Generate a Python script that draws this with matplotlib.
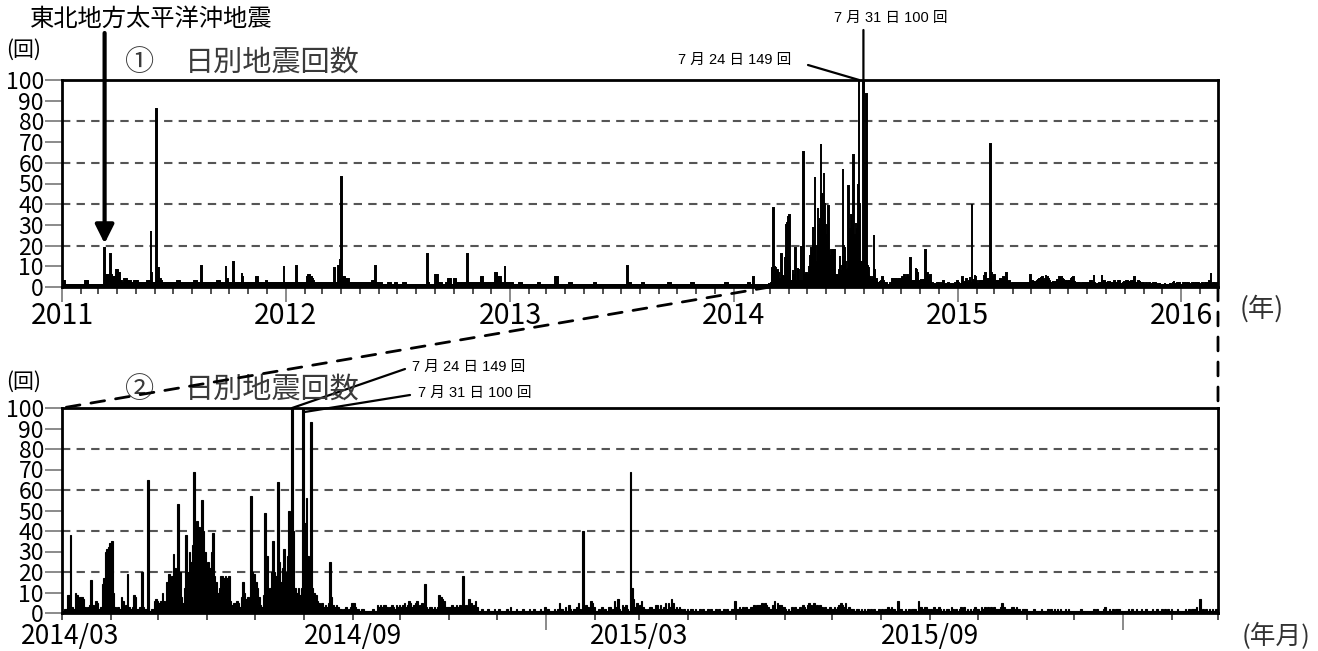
import calendar
import datetime as dt

import matplotlib
matplotlib.use('Agg')
import matplotlib.pyplot as plt
import matplotlib.dates as mdates
from matplotlib.ticker import FuncFormatter, NullFormatter, MultipleLocator
from matplotlib.patches import ConnectionPatch

plt.rcParams['font.family'] = ['Noto Sans CJK JP', 'DejaVu Sans']

# daily earthquake counts, one string per month, one digit per day
# (days with 10 or more are listed in the spike lists below)
counts_2011 = [
    "1333311111 1111111111 1111111111 1",
    "1111111333 3311111111 11111111",
    "1111111111 1665566655 1665555558 8",
    "8877333322 2444443333 3322222333",
    "3333222222 2222222223 3333327222 2",
    "2221999544 3322222222 2222222222",
    "2222222333 3222222222 2222222222 2",
    "2222333322 2222322222 2222222222 2",
    "2222222222 3333322222 2222222421",
    "2222221222 2222222222 7522222222 2",
    "2222222222 2255522222 2222222223",
    "3222222222 2222222222 2222222212 2",
]
counts_2012 = [
    "2222222222 2222222122 2222222222 2",
    "2222566655 5543322222 222222222",
    "2222222222 2222222229 2222221229 9",
    "1555554444 4422222222 2222222222",
    "2222222222 2222222222 3333321222 2",
    "2222211111 1111122222 1111112222",
    "1111111111 2222211111 1111111111 1",
    "1111111111 1111111112 2111111111 1",
    "6666222222 2111111122 4444411111",
    "4444222222 2222222222 2222222222 2",
    "2222222222 2225555222 2222222222",
    "2222222777 5555552222 2222222222 2",
]
counts_2013 = [
    "2222211111 1111122222 1111111111 1",
    "1111111111 1111222211 11111111",
    "1111111111 1111155551 1111111111 1",
    "1111112222 2111111111 1111111111",
    "1111111111 1111111222 2111111111 1",
    "1111111111 1111111111 1111111111",
    "1111111111 1222221111 1111111111 1",
    "1111222111 1111111111 1111111111 1",
    "1111111111 1111122221 1111111111",
    "1111111111 1111111111 1112222111 1",
    "1111111111 1111111111 1111111111",
    "1111111111 1111112222 2211111111 1",
]
counts_2014 = [
    "1111111111 1111111111 1112222111 1",
    "5511111111 1111111111 11111121",
    "1229933219 7887323414 3652311111 1",
    "1132328634 1323982231 3221122676",
    "5616411111 1111851111 1111111111 1",
    "1111111111 1111645565 3811785111",
    "1184391111 1111111111 1111111191 1",
    "1111111965 4534351843 4322123123 5",
    "5322122111 1121143434 4323432434",
    "3453465345 6345313233 2323987633 3",
    "3433434313 4375346311 2111211121",
    "1211112131 1121112111 2112111211 3",
]
counts_2015 = [
    "1211121252 2131421223 5213243265 3",
    "1121312133 1263721434 21117352",
    "4632123322 4424235253 7523232121 2",
    "1221211212 1121211212 1121211226",
    "2232323223 3434445454 3224625443 3",
    "2121323223 2432454252 4343232232",
    "2323454352 3222122121 2121212112 1",
    "2122323221 6221121212 2216332332 2",
    "2132232121 2213212123 2312121232",
    "2132323232 3222353222 2332322122 2",
    "1111211112 1112121212 1211212111",
    "1111211111 1121211123 1121212221 1",
]
counts_2016 = [
    "1112121121 1211211121 1211212121 2",
    "1112111121 2122231712 121212122",
]

spike_dates = [
    "2011-03-11", "2011-03-21", "2011-05-26", "2011-06-04", "2011-08-16",
    "2011-09-25", "2011-10-07", "2011-12-29", "2012-01-18", "2012-03-27",
    "2012-03-30", "2012-04-01", "2012-05-26", "2012-08-19", "2012-10-23",
    "2012-12-23", "2013-07-11",
    "2014-03-06", "2014-03-09", "2014-03-19", "2014-03-26", "2014-03-27",
    "2014-03-28", "2014-03-29", "2014-03-30", "2014-03-31",
    "2014-04-01", "2014-04-02", "2014-04-11", "2014-04-20", "2014-04-24",
    "2014-05-03", "2014-05-06", "2014-05-07", "2014-05-08", "2014-05-09",
    "2014-05-10", "2014-05-11", "2014-05-12", "2014-05-13", "2014-05-14",
    "2014-05-17", "2014-05-18", "2014-05-19", "2014-05-20", "2014-05-21",
    "2014-05-22", "2014-05-23", "2014-05-24", "2014-05-25", "2014-05-26",
    "2014-05-27", "2014-05-28", "2014-05-29", "2014-05-30", "2014-05-31",
    "2014-06-01", "2014-06-02", "2014-06-03", "2014-06-04", "2014-06-05",
    "2014-06-06", "2014-06-07", "2014-06-08", "2014-06-09", "2014-06-10",
    "2014-06-11", "2014-06-12", "2014-06-13", "2014-06-14", "2014-06-23",
    "2014-06-24", "2014-06-28", "2014-06-29", "2014-06-30",
    "2014-07-01", "2014-07-02", "2014-07-07", "2014-07-08", "2014-07-09",
    "2014-07-10", "2014-07-11", "2014-07-12", "2014-07-13", "2014-07-14",
    "2014-07-15", "2014-07-16", "2014-07-17", "2014-07-18", "2014-07-19",
    "2014-07-20", "2014-07-21", "2014-07-22", "2014-07-23", "2014-07-24",
    "2014-07-25", "2014-07-26", "2014-07-27", "2014-07-28", "2014-07-30",
    "2014-07-31",
    "2014-08-01", "2014-08-02", "2014-08-03", "2014-08-04", "2014-08-05",
    "2014-08-06", "2014-08-07", "2014-08-17", "2014-10-16", "2014-11-09",
    "2015-01-24", "2015-02-23", "2015-02-24",
]
spike_counts = [
    19, 16, 27, 86, 10,
    10, 12, 10, 10, 10,
    13, 53, 10, 16, 16,
    10, 10,
    38, 10, 16, 14, 17,
    30, 31, 32, 34,
    35, 10, 19, 20, 65,
    10, 15, 19, 17, 18,
    29, 22, 16, 53, 20,
    12, 38, 20, 30, 25,
    33, 69, 44, 45, 42,
    35, 55, 40, 30, 24,
    25, 22, 30, 39, 18,
    15, 10, 12, 18, 18,
    17, 18, 17, 18, 15,
    10, 57, 20, 19,
    15, 12, 49, 28, 10,
    12, 20, 35, 20, 18,
    64, 25, 15, 22, 31,
    20, 28, 50, 30, 149,
    40, 12, 10, 12, 12,
    100,
    44, 56, 28, 20, 93,
    12, 10, 25, 14, 18,
    40, 69, 12,
]

# build the daily series
daily = {}
for year, months in [(2011, counts_2011), (2012, counts_2012), (2013, counts_2013),
                     (2014, counts_2014), (2015, counts_2015), (2016, counts_2016)]:
    for m, s in enumerate(months, start=1):
        s = s.replace(" ", "")
        n = calendar.monthrange(year, m)[1]
        s = s.ljust(n, "0")[:n]
        for d in range(n):
            daily[dt.date(year, m, d + 1)] = int(s[d])
for ds, c in zip(spike_dates, spike_counts):
    daily[dt.date.fromisoformat(ds)] = c

dates = sorted(daily)
x = mdates.date2num(dates)
y = [daily[d] for d in dates]

W, H = 1318, 651
fig = plt.figure(figsize=(W / 100, H / 100), dpi=100)


def fx(px):
    return px / W


def fy(py):
    return 1 - py / H


ax1 = fig.add_axes([fx(62), fy(287), fx(1156), 207 / H])
ax2 = fig.add_axes([fx(62), fy(613), fx(1156), 205 / H])

grid_color = '#555555'
tick_color = '#777777'

for ax, lw in [(ax1, 1.4), (ax2, 0.8)]:
    ax.bar(x, y, width=1.0, align='edge', color='black', edgecolor='black',
           linewidth=lw, zorder=2)
    for g in [20, 40, 60, 80]:
        ax.axhline(g, color=grid_color, lw=1.5, dashes=(4, 3), zorder=1)
    ax.set_ylim(0, 100)
    ax.yaxis.set_major_locator(MultipleLocator(10))
    ax.tick_params(axis='y', direction='out', length=12, width=1.2,
                   color=tick_color, labelsize=16.5, pad=1)
    for sp in ax.spines.values():
        sp.set_linewidth(2)
        sp.set_zorder(3)

# top panel: whole period
x_start1 = mdates.date2num(dt.date(2011, 1, 1))
x_start2 = mdates.date2num(dt.date(2014, 3, 1))
x_end = mdates.date2num(dt.date(2016, 3, 1))
ax1.set_xlim(x_start1, x_end)
ax1.xaxis.set_major_locator(mdates.YearLocator())
ax1.xaxis.set_major_formatter(mdates.DateFormatter('%Y'))
ax1.xaxis.set_minor_locator(mdates.MonthLocator())
ax1.tick_params(axis='x', which='major', length=11, width=1.2, color=tick_color,
                labelsize=20.5, pad=-1)
ax1.tick_params(axis='x', which='minor', length=5, width=1.2, color='#333333')

# bottom panel: 2014/03 onwards
ax2.set_xlim(x_start2, x_end)
ax2.xaxis.set_major_locator(mdates.MonthLocator(bymonth=1))
ax2.xaxis.set_major_formatter(NullFormatter())
ax2.xaxis.set_minor_locator(mdates.MonthLocator())


def month_label(v, pos):
    d = mdates.num2date(v)
    # first label is placed by hand, slightly right of the axis corner
    if d.month in (3, 9) and x_start2 + 1 < v < x_end - 1:
        return d.strftime('%Y/%m')
    return ''


ax2.xaxis.set_minor_formatter(FuncFormatter(month_label))
ax2.tick_params(axis='x', which='major', length=12, width=1.2, color=tick_color)
ax2.tick_params(axis='x', which='minor', length=5, width=1.2, color='#333333',
                labelsize=19, pad=2)
fig.text(fx(70), fy(613 + 7 * 100 / 72), '2014/03', fontsize=19,
         ha='center', va='top')

# panel titles and units
title_color = '#3a3a3a'
for ax, num, ty in [(ax1, '①', 63), (ax2, '②', 390)]:
    fig.text(fx(140), fy(ty), num, fontsize=21, color=title_color, ha='center', va='center')
    fig.text(fx(185), fy(ty), '日別地震回数', fontsize=21, color=title_color,
             ha='left', va='center')
fig.text(fx(24), fy(50), '(回)', fontsize=15, ha='center', va='center')
fig.text(fx(24), fy(382), '(回)', fontsize=15, ha='center', va='center')
fig.text(fx(1262), fy(309), '(年)', fontsize=19, color='#333333', ha='center', va='center')
fig.text(fx(1276), fy(636), '(年月)', fontsize=18.5, color='#333333', ha='center', va='center')

# Tohoku earthquake arrow
fig.text(fx(30), fy(19), '東北地方太平洋沖地震', fontsize=17.5, ha='left', va='center')
quake = mdates.date2num(dt.date(2011, 3, 11)) + 0.5
ax1.annotate('', xy=(quake, 21), xycoords='data',
             xytext=(quake, fy(33)), textcoords=('data', 'figure fraction'),
             arrowprops=dict(arrowstyle='-|>', color='black', lw=3,
                             mutation_scale=28, shrinkA=0, shrinkB=0))

# peak labels
lab_font = ['Liberation Sans', 'Noto Sans CJK JP']
jul24 = mdates.date2num(dt.date(2014, 7, 24)) + 0.5
jul31 = mdates.date2num(dt.date(2014, 7, 31)) + 0.5
line_kw = dict(arrowstyle='-', color='black', lw=1.6, shrinkA=0, shrinkB=0)

fig.text(fx(735), fy(60), '7 月 24 日 149 回', fontsize=10.5, family=lab_font,
         ha='center', va='center')
fig.text(fx(891), fy(18), '7 月 31 日 100 回', fontsize=10.5, family=lab_font,
         ha='center', va='center')
ax1.annotate('', xy=(jul24, 100), xytext=(fx(808), fy(65)),
             textcoords='figure fraction', arrowprops=line_kw)
ax1.annotate('', xy=(jul31, 100), xytext=(jul31, fy(30)),
             textcoords=('data', 'figure fraction'), arrowprops=line_kw)

fig.text(fx(412), fy(367), '7 月 24 日 149 回', fontsize=10.5, family=lab_font,
         ha='left', va='center')
fig.text(fx(418), fy(393), '7 月 31 日 100 回', fontsize=10.5, family=lab_font,
         ha='left', va='center')
ax2.annotate('', xy=(jul24, 100), xytext=(fx(405), fy(369)),
             textcoords='figure fraction', arrowprops=line_kw)
ax2.annotate('', xy=(jul31 + 0.5, 98), xytext=(fx(410), fy(395)),
             textcoords='figure fraction', arrowprops=line_kw)

# dashed zoom lines between the panels
for d in [dt.date(2014, 3, 1), dt.date(2016, 3, 1)]:
    xv = mdates.date2num(d)
    con = ConnectionPatch(xyA=(xv, 0), coordsA=ax1.transData,
                          xyB=(xv, 100), coordsB=ax2.transData,
                          color='black', lw=2, linestyle=(0, (5, 4)), zorder=5)
    fig.add_artist(con)

fig.savefig('out.png', dpi=100)
